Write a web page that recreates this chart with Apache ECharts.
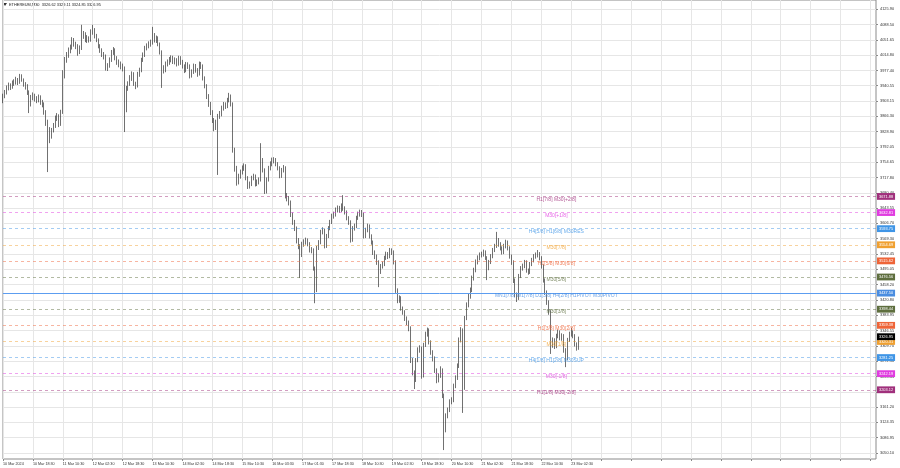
<!DOCTYPE html>
<html><head><meta charset="utf-8">
<script src="https://cdn.jsdelivr.net/npm/echarts@6/dist/echarts.min.js"></script>
<style>html,body{margin:0;padding:0;background:#fff}#c{width:900px;height:468px}</style>
</head><body><div id="c"></div>
<script>
const chartTitle = 'ETHEREUM,M30  3326.62 3329.11 3324.85 3326.95';
const timeLabels = ['10 Mar 2024','10 Mar 18:30','11 Mar 10:30','12 Mar 02:30','12 Mar 18:30','13 Mar 10:30','14 Mar 02:30','14 Mar 18:30','15 Mar 10:30','16 Mar 03:30','17 Mar 01:30','17 Mar 18:30','18 Mar 10:30','19 Mar 02:30','19 Mar 18:30','20 Mar 10:30','21 Mar 02:30','21 Mar 18:30','22 Mar 10:30','23 Mar 02:30'];
const firstOpen = 3905;
const closes = [
3915,3925,3935,3940,3937,3947,3949,3954,3949,3964,
3954,3944,3940,3925,3896,3913,3915,3911,3906,3913,
3901,3896,3877,3852,3833,3818,3833,3843,3862,3867,
3848,3877,3966,4003,4015,4027,4032,4051,4041,4037,
4022,4032,4061,4066,4051,4056,4051,4071,4075,4061,
4051,4037,4027,4017,4012,3983,3988,4003,4022,4027,
4008,3998,3993,3988,3983,3882,3935,3945,3959,3969,
3945,3940,3969,3978,4003,4015,4032,4037,4041,4046,
4061,4051,4056,4041,4022,3983,3978,3993,3998,4003,
4008,3998,4003,3993,4008,3998,3988,3978,3993,3988,
3964,3974,3988,3978,3969,3993,3988,3959,3940,3915,
3896,3877,3857,3838,3852,3867,3872,3886,3896,3891,
3906,3915,3896,3784,3741,3707,3721,3731,3741,3746,
3717,3697,3702,3717,3721,3702,3707,3712,3760,3736,
3683,3712,3741,3751,3760,3760,3751,3741,3721,3736,
3741,3673,3668,3658,3629,3610,3595,3566,3552,3530,
3557,3561,3566,3557,3542,3542,3498,3445,3547,3561,
3586,3590,3552,3576,3595,3610,3624,3629,3639,3644,
3639,3649,3644,3634,3620,3610,3566,3595,3600,3620,
3629,3634,3629,3576,3590,3600,3576,3561,3537,3527,
3513,3489,3503,3508,3523,3532,3527,3542,3537,3513,
3445,3421,3426,3401,3392,3377,3367,3353,3275,3246,
3227,3275,3300,3304,3237,3312,3338,3348,3319,3295,
3280,3251,3227,3237,3251,3190,3106,3140,3154,3174,
3178,3212,3232,3261,3324,3348,3207,3377,3409,3430,
3445,3474,3494,3513,3523,3530,3532,3537,3523,3498,
3513,3527,3542,3552,3566,3557,3547,3537,3552,3561,
3547,3527,3513,3469,3435,3426,3479,3498,3503,3513,
3493,3489,3508,3518,3527,3530,3532,3523,3503,3469,
3440,3416,3392,3312,3324,3309,3334,3343,3329,3334,
3300,3280,3324,3338,3343,3334,3314,3304,3326.95];
const lows = [
3898,3910,3919,3929,3930,3933,3940,3943,3942,3945,
3950,3938,3931,3918,3874,3890,3905,3902,3898,3900,
3894,3888,3870,3843,3731,3801,3812,3827,3838,3855,
3840,3843,3872,3958,3996,4008,4019,4028,4035,4029,
4013,4017,4027,4054,4046,4044,4045,4047,4064,4055,
4046,4031,4020,4010,4004,3977,3976,3984,3998,4015,
4002,3991,3985,3980,3975,3828,3876,3928,3940,3952,
3940,3932,3936,3962,3973,3998,4010,4026,4031,4035,
4040,4045,4044,4036,4016,3935,3970,3973,3987,3991,
3997,3993,3992,3987,3989,3991,3982,3971,3973,3981,
3958,3960,3969,3972,3962,3965,3981,3953,3934,3908,
3889,3869,3850,3830,3833,3724,3860,3866,3880,3884,
3886,3900,3890,3778,3732,3698,3701,3715,3725,3734,
3711,3690,3691,3697,3711,3696,3697,3701,3708,3730,
3678,3679,3708,3735,3745,3752,3745,3735,3716,3717,
3730,3667,3660,3650,3622,3603,3588,3558,3544,3474,
3525,3550,3555,3551,3536,3534,3492,3413,3440,3542,
3556,3580,3546,3547,3571,3590,3605,3618,3623,3633,
3632,3634,3637,3628,3614,3603,3560,3562,3589,3595,
3615,3623,3622,3570,3571,3585,3570,3555,3530,3520,
3506,3452,3484,3497,3503,3518,3520,3522,3530,3507,
3438,3413,3414,3395,3385,3370,3360,3345,3268,3238,
3205,3222,3270,3293,3230,3233,3307,3332,3313,3288,
3272,3244,3219,3221,3232,3183,3057,3100,3134,3149,
3168,3173,3207,3227,3256,3318,3147,3203,3372,3403,
3424,3440,3468,3488,3507,3517,3524,3526,3518,3469,
3493,3508,3522,3537,3547,3550,3541,3531,3532,3546,
3541,3521,3506,3462,3428,3416,3421,3474,3492,3498,
3487,3482,3484,3503,3512,3521,3524,3517,3497,3463,
3433,3409,3385,3290,3305,3302,3304,3328,3323,3322,
3293,3258,3275,3319,3332,3328,3308,3298,3300];
const highs = [
3921,3930,3941,3948,3946,3953,3956,3962,3959,3969,
3968,3958,3949,3944,3929,3918,3924,3921,3915,3919,
3917,3906,3900,3881,3858,3840,3838,3850,3868,3874,
3871,3882,3978,4010,4022,4033,4040,4058,4056,4047,
4041,4038,4088,4073,4070,4063,4060,4077,4088,4080,
4066,4055,4041,4031,4022,4016,3995,4009,4027,4034,
4031,4012,4004,3999,3994,3987,3940,3951,3966,3975,
3973,3950,3974,3984,4008,4021,4037,4043,4048,4052,
4083,4068,4062,4060,4045,4026,3990,3999,4004,4010,
4014,4013,4009,4007,4013,4012,4003,3992,3998,3997,
3992,3980,3994,3993,3983,3999,3998,3992,3963,3944,
3920,3901,3881,3862,3858,3872,3879,3892,3901,3900,
3911,3923,3919,3900,3790,3746,3727,3737,3747,3752,
3750,3721,3708,3722,3727,3725,3713,3718,3801,3765,
3740,3718,3746,3757,3766,3767,3765,3755,3745,3741,
3748,3745,3680,3673,3662,3633,3615,3599,3571,3556,
3562,3568,3572,3570,3561,3549,3546,3502,3552,3566,
3591,3597,3594,3581,3600,3615,3630,3635,3645,3650,
3649,3655,3675,3648,3638,3624,3614,3600,3606,3625,
3635,3640,3639,3633,3596,3606,3604,3580,3565,3541,
3531,3517,3508,3514,3528,3538,3537,3547,3546,3541,
3517,3449,3432,3430,3405,3396,3381,3371,3357,3280,
3250,3280,3306,3311,3308,3317,3344,3354,3352,3323,
3299,3284,3255,3243,3260,3255,3194,3146,3160,3180,
3185,3218,3238,3267,3330,3355,3352,3382,3415,3436,
3451,3480,3499,3519,3529,3536,3538,3543,3541,3527,
3518,3532,3547,3557,3586,3571,3561,3551,3557,3567,
3565,3551,3531,3517,3473,3439,3484,3503,3509,3518,
3517,3497,3513,3523,3532,3536,3542,3537,3527,3507,
3473,3444,3420,3396,3330,3328,3339,3349,3347,3340,
3338,3304,3329,3344,3353,3347,3338,3318,3332];
const priceTicks = [4125.90,4088.50,4051.65,4014.80,3977.40,3940.55,3903.15,3866.30,3828.90,3792.05,3754.65,3717.80,3680.40,3643.55,3606.70,3569.30,3532.45,3495.05,3458.20,3420.80,3383.95,3346.55,3309.70,3272.30,3235.45,3198.05,3161.20,3124.35,3086.95,3050.10];
const levelPrices = [3671.88,3632.81,3593.75,3554.69,3515.62,3476.56,3437.50,3398.44,3359.38,3320.31,3281.25,3242.19,3203.12];
const levelNames = ['H1[7/8] M30[+2/8]','M30[+1/8]','H4[5/8] H1[6/8] M30RES','M30[7/8]','H1[5/8] M30[6/8]','M30[5/8]','MN1[7/8] W1[7/8] D1[3/8] H4[2/8] H1PIVOT M30PIVOT','M30[3/8]','H1[3/8] M30[2/8]','M30[1/8]','H4[1/8] H1[2/8] M30SUP','M30[-1/8]','H1[1/8] M30[-2/8]'];
const levelColors = ['#a0307c','#e03ce0','#3f95e6','#f0a030','#ee6438','#5e6e3e','#4a8de0','#5e6e3e','#ee6438','#f0a030','#3f95e6','#e03ce0','#a0307c'];
const lastPrice = 3326.95;

const SLOTS = 468, LABEL_SLOT = 296, YMIN = 3035.3, YMAX = 4148.15, PIVOT_INDEX = 6;
const FONT = '"Liberation Sans", Arial, sans-serif';
const cats = Array.from({length: SLOTS}, (_, i) => String(i));
const ohlc = closes.map((c, i) => [i === 0 ? firstOpen : closes[i - 1], c, lows[i], highs[i]]);

function fade(hex, a) {
  const n = parseInt(hex.slice(1), 16);
  return 'rgba(' + (n >> 16) + ',' + ((n >> 8) & 255) + ',' + (n & 255) + ',' + a + ')';
}

const chart = echarts.init(document.getElementById('c'), null, {renderer: 'canvas'});
const boxLabel = (text, bg, dy) => ({show: true, position: 'end', formatter: text, backgroundColor: bg, color: '#ffffff',
  fontSize: 3.9, fontFamily: FONT, padding: [1.6, 2, 1.2, 2], distance: 1, offset: [0, dy || 0], opacity: 1});
const markData = levelPrices.map((p, k) => ({
  yAxis: p,
  lineStyle: k === PIVOT_INDEX
    ? {color: '#5c9df0', type: 'solid', width: 1, opacity: 1}
    : {color: fade(levelColors[k], 0.6), type: [3, 3], width: 0.8, opacity: 1},
  label: boxLabel(p.toFixed(2), levelColors[k], 0)
}));
markData.push({yAxis: lastPrice, lineStyle: {color: 'rgba(0,0,0,0)', opacity: 1}, label: boxLabel(lastPrice.toFixed(2), '#000000', -2)});

chart.setOption({
  animation: false,
  backgroundColor: '#ffffff',
  grid: {left: 0.5, right: 24, top: 0, bottom: 9, show: true, borderColor: '#8a8a8a', borderWidth: 1},
  xAxis: {
    type: 'category', data: cats, boundaryGap: false,
    axisLine: {show: false, onZero: false},
    axisTick: {show: true, interval: 15, length: 2, lineStyle: {color: '#8a8a8a'}},
    axisLabel: {interval: 15, formatter: (v, i) => (i % 16 === 0 && timeLabels[i / 16]) ? timeLabels[i / 16] : '', fontSize: 3.7, color: '#333', align: 'left', margin: 3, fontFamily: FONT},
    splitLine: {show: true, interval: 15, lineStyle: {color: '#e6e6e6', width: 1}}
  },
  yAxis: {
    type: 'value', position: 'right', min: YMIN, max: YMAX,
    axisLine: {show: false},
    axisTick: {show: true, customValues: priceTicks, length: 2, lineStyle: {color: '#8a8a8a'}},
    axisLabel: {customValues: priceTicks, formatter: v => v.toFixed(2), fontSize: 3.9, color: '#333', margin: 4, fontFamily: FONT},
    splitLine: {show: true, lineStyle: {color: '#e6e6e6', width: 1}}
  },
  graphic: [
    {type: 'polygon', shape: {points: [[3, 3], [7, 3], [5, 6]]}, style: {fill: '#333'}},
    {type: 'text', left: 9, top: 2.5, style: {text: chartTitle, font: '3.9px ' + FONT, fill: '#222'}}
  ],
  series: [
    {type: 'candlestick', data: ohlc, barWidth: 1, clip: true,
     itemStyle: {color: '#ffffff', color0: '#333333', borderColor: '#333333', borderColor0: '#333333', borderWidth: 0.7}},
    {type: 'line', data: [], clip: false, silent: true, z: 6,
     markLine: {symbol: ['none', 'none'], silent: true, animation: false, data: markData}},
    {type: 'scatter', symbolSize: 0.1, silent: true, clip: false, z: 7, itemStyle: {color: 'rgba(0,0,0,0)'},
     data: levelPrices.map((p, k) => ({value: [LABEL_SLOT, p],
       label: {show: true, position: 'bottom', distance: 0.3, formatter: levelNames[k], color: levelColors[k], fontSize: 5, fontFamily: FONT}}))}
  ]
});
</script></body></html>
